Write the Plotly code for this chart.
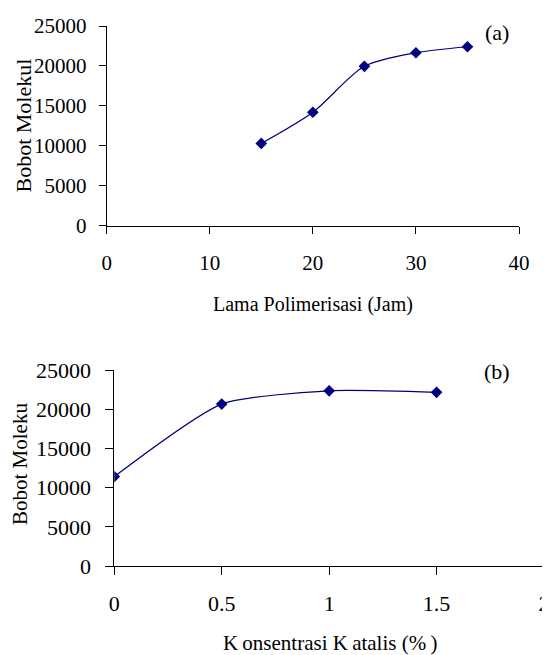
import plotly.graph_objects as go

# Data (a)
jam = [15, 20, 25, 30, 35]
bobot_a = [10300, 14200, 19950, 21650, 22400]
xticks_a = [0, 10, 20, 30, 40]

# Data (b)
katalis = [0, 0.5, 1, 1.5]
bobot_b = [11400, 20650, 22350, 22150]
xticks_b = [0, 0.5, 1, 1.5, 2]
xticktext_b = ["0", "0.5", "1", "1.5", "2"]

yticks = [0, 5000, 10000, 15000, 20000, 25000]
yticktext = ["0", "5000", "10000", "15000", "20000", "25000"]

FONT = "Times New Roman, Liberation Serif, Tinos, DejaVu Serif, serif"
NAVY = "#000080"

# page has an 8px body margin; figure is placed at (8, 8)
W, H, OFF = 542, 647, 8
def px(x):
    return (x - OFF) / W
def py(y):
    return 1 - (y - OFF) / H

fig = go.Figure()
fig.add_trace(go.Scatter(x=jam, y=bobot_a, mode="lines+markers",
                         line=dict(color=NAVY, width=1.2, shape="spline", smoothing=0.8),
                         marker=dict(symbol="diamond", size=9, color=NAVY),
                         xaxis="x", yaxis="y", showlegend=False))
fig.add_trace(go.Scatter(x=katalis, y=bobot_b, mode="lines+markers",
                         line=dict(color=NAVY, width=1.2, shape="spline", smoothing=0.6),
                         marker=dict(symbol="diamond", size=9, color=NAVY),
                         xaxis="x2", yaxis="y2", showlegend=False))

def axis_common(size, tl):
    return dict(showgrid=False, zeroline=False, showline=True, linecolor="black",
                linewidth=1, ticks="outside", ticklen=tl, tickcolor="black", tickwidth=1,
                automargin=False,
                tickfont=dict(family=FONT, size=size, color="black"))

fig.update_layout(
    width=W, height=H,
    margin=dict(l=0, r=0, t=0, b=0, autoexpand=False),
    paper_bgcolor="white", plot_bgcolor="white",
    font=dict(family=FONT),
    xaxis=dict(domain=[px(106.7), px(519)], range=[0, 40], tickvals=xticks_a,
               ticklabelstandoff=11, anchor="y", **axis_common(21, 7)),
    yaxis=dict(domain=[py(225.7), py(26)], range=[0, 25000], tickvals=yticks,
               ticktext=yticktext, ticklabelstandoff=8, anchor="x", **axis_common(21, 7)),
    xaxis2=dict(domain=[px(114.3), px(544)], range=[0, 2], tickvals=xticks_b,
                ticktext=xticktext_b, ticklabelstandoff=10, anchor="y2", **axis_common(22, 8)),
    yaxis2=dict(domain=[py(566), py(370)], range=[0, 25000], tickvals=yticks,
                ticktext=yticktext, ticklabelstandoff=10, anchor="x2", **axis_common(22, 8)),
)

def ann(text, x, y, size=17, angle=0):
    fig.add_annotation(text=text, xref="paper", yref="paper",
                       x=px(x), y=py(y), showarrow=False, textangle=angle,
                       xanchor="center", yanchor="middle",
                       font=dict(family=FONT, size=size, color="black"))

ann("(a)", 497, 33, 22)
ann("(b)", 497, 372, 22)
ann("Lama Polimerisasi (Jam)", 313, 305, 20)
ann("Bobot Molekul", 22.5, 126, 22, -90)
ann("K\u2009onsentrasi K\u2009atalis (%\u2009)", 330, 643, 21)
ann("Bobot Moleku", 20, 464, 21, -90)

fig.write_html("out.html")
